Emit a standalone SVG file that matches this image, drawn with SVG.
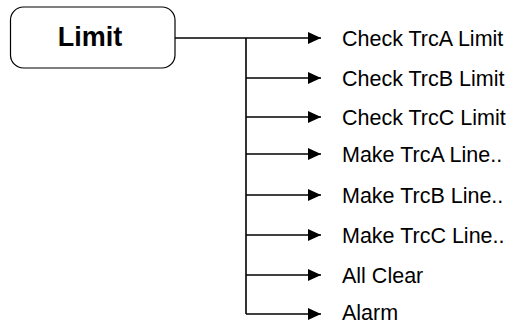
<svg xmlns="http://www.w3.org/2000/svg" width="511" height="325" viewBox="0 0 511 325">
<style>
.box{fill:#fff;stroke:#000;stroke-width:1.2}
.title{font-family:"Liberation Sans",Arial,sans-serif;font-weight:bold;font-size:27px;fill:#000}
.lbl{font-family:"Liberation Sans",Arial,sans-serif;font-size:21.5px;fill:#000}
.ln{fill:none;stroke:#000;stroke-width:1.6}
</style>
<defs>
<marker id="ah" markerWidth="13" markerHeight="12" refX="13" refY="6" orient="auto" markerUnits="userSpaceOnUse">
<path d="M0,0 L13,6 L0,12 Z" fill="#000"/>
</marker>
</defs>
<rect width="511" height="325" fill="#fff"/>
<g id="node-limit">
<rect class="box" x="10.5" y="7" width="164.5" height="61" rx="13" ry="13"/>
<text class="title" x="90" y="46" text-anchor="middle">Limit</text>
</g>
<g id="connectors">
<line class="ln" x1="175" y1="38" x2="246" y2="38"/>
<line class="ln" x1="246" y1="38" x2="246" y2="314"/>
<line class="ln" x1="246" y1="38" x2="321" y2="38" marker-end="url(#ah)"/>
<line class="ln" x1="246" y1="78" x2="321" y2="78" marker-end="url(#ah)"/>
<line class="ln" x1="246" y1="117" x2="321" y2="117" marker-end="url(#ah)"/>
<line class="ln" x1="246" y1="154" x2="321" y2="154" marker-end="url(#ah)"/>
<line class="ln" x1="246" y1="195" x2="321" y2="195" marker-end="url(#ah)"/>
<line class="ln" x1="246" y1="235" x2="321" y2="235" marker-end="url(#ah)"/>
<line class="ln" x1="246" y1="275" x2="321" y2="275" marker-end="url(#ah)"/>
<line class="ln" x1="246" y1="314" x2="321" y2="314" marker-end="url(#ah)"/>
</g>
<g id="node-check-trca"><text class="lbl" x="342" y="45.7">Check TrcA Limit</text></g>
<g id="node-check-trcb"><text class="lbl" x="342" y="85.7">Check TrcB Limit</text></g>
<g id="node-check-trcc"><text class="lbl" x="342" y="124.7">Check TrcC Limit</text></g>
<g id="node-make-trca"><text class="lbl" x="342" y="161.7">Make TrcA Line..</text></g>
<g id="node-make-trcb"><text class="lbl" x="342" y="202.7">Make TrcB Line..</text></g>
<g id="node-make-trcc"><text class="lbl" x="342" y="242.7">Make TrcC Line..</text></g>
<g id="node-all-clear"><text class="lbl" x="342" y="282.7">All Clear</text></g>
<g id="node-alarm"><text class="lbl" x="342" y="320.3">Alarm</text></g>
</svg>
